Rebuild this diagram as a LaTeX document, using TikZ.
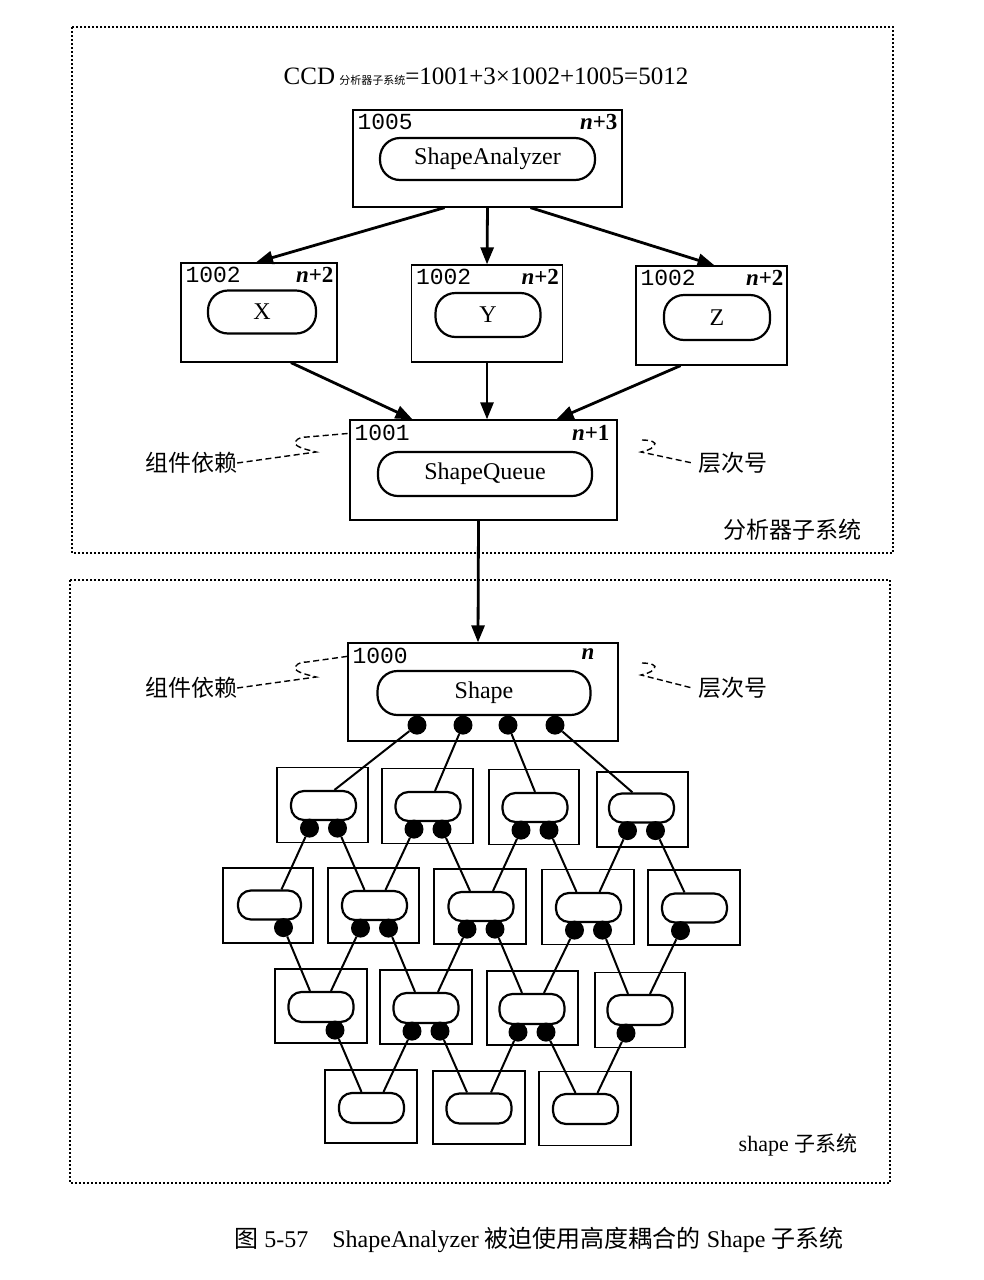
\documentclass[tikz,border=0pt]{standalone}
\usepackage{fontspec}
\setmainfont{Liberation Serif}
\newfontfamily\cjk{Noto Sans CJK SC}
\newfontfamily\monof{Liberation Mono}
\usetikzlibrary{arrows.meta}
\begin{document}
\begin{tikzpicture}[x=1pt,y=-1pt,
  frame/.style={line width=2.2pt, dash pattern=on 1.8pt off 2.2pt},
  comp/.style={draw, line width=1.3pt, inner sep=0pt},
  bigpill/.style={draw, fill=white, line width=2.2pt, rounded corners=20pt, inner sep=0pt, font=\fontsize{24}{24}\selectfont},
  pill/.style={draw, fill=white, line width=2.2pt, rounded corners=13pt, inner sep=0pt, minimum width=65pt, minimum height=29pt},
  dot/.style={circle, fill=black, inner sep=0pt, minimum size=19pt},
  arr/.style={line width=2.8pt, -{Triangle[length=17pt,width=13pt]}},
  link/.style={line width=2pt},
  squig/.style={line width=1.4pt, dash pattern=on 6pt off 3.5pt},
  idlab/.style={anchor=north west, inner sep=0pt, font=\monof\fontsize{23}{23}\selectfont},
  lvlab/.style={anchor=north east, inner sep=0pt, font=\bfseries\fontsize{23}{23}\selectfont},
  cjklab/.style={inner sep=0pt, font=\cjk\fontsize{23}{23}\selectfont}
]
\useasboundingbox (0,0) rectangle (984,1280);

% outer frames
\draw[frame] (72,27) rectangle (893,553);
\draw[frame] (70,580) rectangle (890,1183);

% CCD formula
\node[inner sep=0pt, font=\fontsize{25}{25}\selectfont] (ccd) at (486,77)
  {CCD\,{\cjk\fontsize{11}{11}\selectfont 分析器子系统}=1001+3×1002+1005=5012};

% ShapeAnalyzer component
\node[comp, minimum width=269pt, minimum height=97pt] (saB) at (487.5,158.5) {};
\node[bigpill, minimum width=215pt, minimum height=42pt] (saP) at (487.5,159) {ShapeAnalyzer};
\node[idlab] (saI) at ([xshift=5pt,yshift=-5pt]saB.north west) {1005};
\node[lvlab] (saL) at ([xshift=-5pt,yshift=-5pt]saB.north east) {\itshape n\upshape+3};

% X, Y, Z components
\node[comp, minimum width=156pt, minimum height=99pt] (xB) at (259,312.5) {};
\node[bigpill, minimum width=108pt, minimum height=43pt] (xP) at (262,312) {X};
\node[idlab] (xI) at ([xshift=5pt,yshift=-5pt]xB.north west) {1002};
\node[lvlab] (xL) at ([xshift=-4pt,yshift=-5pt]xB.north east) {\itshape n\upshape+2};

\node[comp, minimum width=151pt, minimum height=97pt] (yB) at (487,313.5) {};
\node[bigpill, minimum width=105pt, minimum height=44pt] (yP) at (488,315) {Y};
\node[idlab] (yI) at ([xshift=5pt,yshift=-5pt]yB.north west) {1002};
\node[lvlab] (yL) at ([xshift=-4pt,yshift=-5pt]yB.north east) {\itshape n\upshape+2};

\node[comp, minimum width=151pt, minimum height=99pt] (zB) at (711.5,315.5) {};
\node[bigpill, minimum width=106pt, minimum height=45pt] (zP) at (717,317.5) {Z};
\node[idlab] (zI) at ([xshift=5pt,yshift=-5pt]zB.north west) {1002};
\node[lvlab] (zL) at ([xshift=-4pt,yshift=-5pt]zB.north east) {\itshape n\upshape+2};

% ShapeQueue component
\node[comp, minimum width=267pt, minimum height=100pt] (sqB) at (483.5,470) {};
\node[bigpill, minimum width=214pt, minimum height=44pt] (sqP) at (485,474) {ShapeQueue};
\node[idlab] (sqI) at ([xshift=5pt,yshift=-6pt]sqB.north west) {1001};
\node[lvlab] (sqL) at ([xshift=-8pt,yshift=-6pt]sqB.north east) {\itshape n\upshape+1};

% arrows in analyzer subsystem
\draw[arr] ([xshift=-43pt]saB.south) -- ([xshift=-3pt]xB.north);
\draw[arr] (saB.south) -- (yB.north);
\draw[arr] ([xshift=43pt]saB.south) -- ([xshift=3pt]zB.north);
\draw[arr] ([xshift=32pt]xB.south) -- ([xshift=-71pt]sqB.north);
\draw[arr] (yB.south) -- ([xshift=3.5pt]sqB.north);
\draw[arr] ([xshift=-31pt]zB.south) -- ([xshift=73pt]sqB.north);

% labels group 1
\node[cjklab] (dep1) at (191,463) {组件依赖};
\node[cjklab] (lev1) at (733,463) {层次号};
\coordinate (dep1e) at ([yshift=-14pt]sqB.north west);
\draw[squig] (dep1.east) -- (316,452) .. controls (304,449) and (292,446) .. (296,441)
  .. controls (298,438) and (302,437) .. (307,437) -- (dep1e);
\coordinate (lev1s) at (642,440);
\draw[squig] (lev1s) .. controls (650,440) and (658,442) .. (654,446)
  .. controls (651,450) and (644,451) .. (641,452) -- ([xshift=-6pt]lev1.west);

\node[cjklab] (sub1) at (792,530) {分析器子系统};

% arrow to Shape
\node[comp, minimum width=270pt, minimum height=98pt] (shB) at (483,692) {};
\draw[arr] ([xshift=-5pt]sqB.south) -- ([xshift=-5pt]shB.north);
\node[bigpill, minimum width=213pt, minimum height=44pt] (shP) at (484,693) {Shape};
\node[idlab] (shI) at ([xshift=5pt,yshift=-6pt]shB.north west) {1000};
\node[lvlab] (shL) at ([xshift=-24pt,yshift=-6pt]shB.north east) {\itshape n};

% labels group 2
\node[cjklab] (dep2) at (191,688) {组件依赖};
\node[cjklab] (lev2) at (733,688) {层次号};
\coordinate (dep2e) at ([yshift=-14pt]shB.north west);
\draw[squig] (dep2.east) -- (316,677) .. controls (304,674) and (292,671) .. (296,666)
  .. controls (298,663) and (302,662) .. (307,662) -- (dep2e);
\coordinate (lev2s) at (642,663);
\draw[squig] (lev2s) .. controls (650,663) and (658,665) .. (654,669)
  .. controls (651,673) and (644,674) .. (641,675) -- ([xshift=-6pt]lev2.west);

\node[inner sep=0pt, font=\fontsize{22}{22}\selectfont] (sub2) at (798,1145) {shape {\cjk\fontsize{21}{21}\selectfont 子系统}};

% ---------- lattice ----------
% row 1 boxes
\node[comp, minimum width=91pt, minimum height=75pt] (b11) at (322.5,805) {};
\node[comp, minimum width=91pt, minimum height=75pt] (b12) at (427.5,806) {};
\node[comp, minimum width=90pt, minimum height=75pt] (b13) at (534,807) {};
\node[comp, minimum width=91pt, minimum height=75pt] (b14) at (642.5,809.5) {};
% row 2 boxes
\node[comp, minimum width=90pt, minimum height=75pt] (b21) at (268,905.5) {};
\node[comp, minimum width=91pt, minimum height=75pt] (b22) at (373.5,905.5) {};
\node[comp, minimum width=92pt, minimum height=75pt] (b23) at (480,906.5) {};
\node[comp, minimum width=92pt, minimum height=75pt] (b24) at (588,907) {};
\node[comp, minimum width=92pt, minimum height=75pt] (b25) at (694,907.5) {};
% row 3 boxes
\node[comp, minimum width=92pt, minimum height=74pt] (b31) at (321,1006) {};
\node[comp, minimum width=92pt, minimum height=74pt] (b32) at (426,1007) {};
\node[comp, minimum width=91pt, minimum height=74pt] (b33) at (532.5,1008) {};
\node[comp, minimum width=90pt, minimum height=75pt] (b34) at (640,1010) {};
% row 4 boxes
\node[comp, minimum width=92pt, minimum height=73pt] (b41) at (371,1106.5) {};
\node[comp, minimum width=92pt, minimum height=73pt] (b42) at (479,1107.5) {};
\node[comp, minimum width=92pt, minimum height=74pt] (b43) at (585,1108.5) {};

% pills
\node[pill] (p11) at (323.5,805.5) {};
\node[pill] (p12) at (428,806.5) {};
\node[pill] (p13) at (535,807.5) {};
\node[pill] (p14) at (641.5,808) {};
\node[pill, minimum width=63pt] (p21) at (269.5,905) {};
\node[pill] (p22) at (374.5,905.5) {};
\node[pill] (p23) at (481,906.5) {};
\node[pill] (p24) at (588.5,907.5) {};
\node[pill] (p25) at (694.5,908) {};
\node[pill, minimum height=30pt] (p31) at (321,1007) {};
\node[pill, minimum height=30pt] (p32) at (426,1008) {};
\node[pill, minimum height=30pt] (p33) at (532,1009) {};
\node[pill, minimum height=30pt] (p34) at (640,1010) {};
\node[pill, minimum height=30pt] (p41) at (371.5,1108) {};
\node[pill, minimum height=30pt] (p42) at (479,1108.5) {};
\node[pill, minimum height=30pt] (p43) at (585.5,1109) {};

% dots on Shape
\node[dot] (s1) at ([xshift=-67pt,yshift=-9pt]shP.south) {};
\node[dot] (s2) at ([xshift=-21pt,yshift=-9pt]shP.south) {};
\node[dot] (s3) at ([xshift=24pt,yshift=-9pt]shP.south) {};
\node[dot] (s4) at ([xshift=71pt,yshift=-9pt]shP.south) {};
% dots row 1
\node[dot] (d11a) at ([xshift=-14pt,yshift=-7pt]p11.south) {};
\node[dot] (d11b) at ([xshift=14pt,yshift=-7pt]p11.south) {};
\node[dot] (d12a) at ([xshift=-14pt,yshift=-7pt]p12.south) {};
\node[dot] (d12b) at ([xshift=14pt,yshift=-7pt]p12.south) {};
\node[dot] (d13a) at ([xshift=-14pt,yshift=-7pt]p13.south) {};
\node[dot] (d13b) at ([xshift=14pt,yshift=-7pt]p13.south) {};
\node[dot] (d14a) at ([xshift=-14pt,yshift=-7pt]p14.south) {};
\node[dot] (d14b) at ([xshift=14pt,yshift=-7pt]p14.south) {};
% dots row 2
\node[dot] (d21b) at ([xshift=14pt,yshift=-7pt]p21.south) {};
\node[dot] (d22a) at ([xshift=-14pt,yshift=-7pt]p22.south) {};
\node[dot] (d22b) at ([xshift=14pt,yshift=-7pt]p22.south) {};
\node[dot] (d23a) at ([xshift=-14pt,yshift=-7pt]p23.south) {};
\node[dot] (d23b) at ([xshift=14pt,yshift=-7pt]p23.south) {};
\node[dot] (d24a) at ([xshift=-14pt,yshift=-7pt]p24.south) {};
\node[dot] (d24b) at ([xshift=14pt,yshift=-7pt]p24.south) {};
\node[dot] (d25a) at ([xshift=-14pt,yshift=-7pt]p25.south) {};
% dots row 3
\node[dot] (d31b) at ([xshift=14pt,yshift=-7pt]p31.south) {};
\node[dot] (d32a) at ([xshift=-14pt,yshift=-7pt]p32.south) {};
\node[dot] (d32b) at ([xshift=14pt,yshift=-7pt]p32.south) {};
\node[dot] (d33a) at ([xshift=-14pt,yshift=-7pt]p33.south) {};
\node[dot] (d33b) at ([xshift=14pt,yshift=-7pt]p33.south) {};
\node[dot] (d34a) at ([xshift=-14pt,yshift=-7pt]p34.south) {};

% links Shape -> row 1
\draw[link] (s1) -- ([xshift=11pt]p11.north);
\draw[link] (s2) -- ([xshift=7pt]p12.north);
\draw[link] (s3) -- (p13.north);
\draw[link] (s4) -- ([xshift=-9pt]p14.north);
% row 1 -> row 2
\draw[link] (d11a) -- ([xshift=12pt]p21.north);
\draw[link] (d11b) -- ([xshift=-10pt]p22.north);
\draw[link] (d12a) -- ([xshift=11pt]p22.north);
\draw[link] (d12b) -- ([xshift=-11pt]p23.north);
\draw[link] (d13a) -- ([xshift=12pt]p23.north);
\draw[link] (d13b) -- ([xshift=-12pt]p24.north);
\draw[link] (d14a) -- ([xshift=11pt]p24.north);
\draw[link] (d14b) -- ([xshift=-10pt]p25.north);
% row 2 -> row 3
\draw[link] (d21b) -- ([xshift=-11pt]p31.north);
\draw[link] (d22a) -- ([xshift=10pt]p31.north);
\draw[link] (d22b) -- ([xshift=-11pt]p32.north);
\draw[link] (d23a) -- ([xshift=12pt]p32.north);
\draw[link] (d23b) -- ([xshift=-10pt]p33.north);
\draw[link] (d24a) -- ([xshift=12pt]p33.north);
\draw[link] (d24b) -- ([xshift=-12pt]p34.north);
\draw[link] (d25a) -- ([xshift=10pt]p34.north);
% row 3 -> row 4
\draw[link] (d31b) -- ([xshift=-10pt]p41.north);
\draw[link] (d32a) -- ([xshift=12pt]p41.north);
\draw[link] (d32b) -- ([xshift=-12pt]p42.north);
\draw[link] (d33a) -- ([xshift=12pt]p42.north);
\draw[link] (d33b) -- ([xshift=-10pt]p43.north);
\draw[link] (d34a) -- ([xshift=12pt]p43.north);

% caption
\node[inner sep=0pt, font=\fontsize{24}{24}\selectfont] (cap) at (539,1240)
  {{\cjk 图} 5-57\quad ShapeAnalyzer {\cjk 被迫使用高度耦合的} Shape {\cjk 子系统}};
\end{tikzpicture}
\end{document}
